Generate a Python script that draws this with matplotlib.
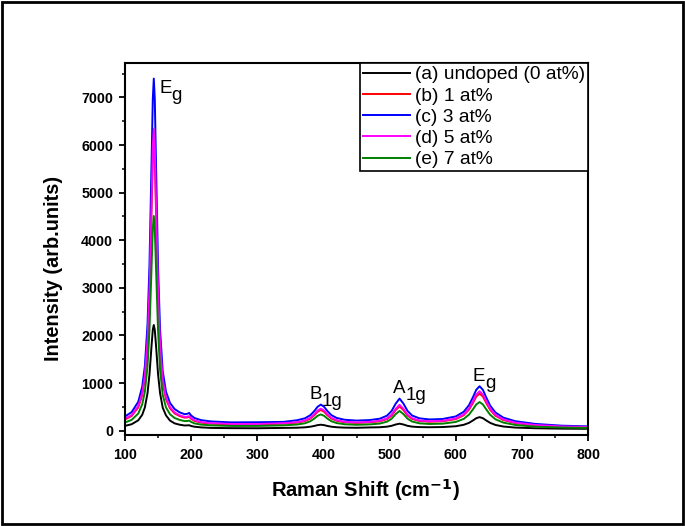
import matplotlib
matplotlib.use("Agg")
import matplotlib.pyplot as plt
from matplotlib.patches import Rectangle
from matplotlib.ticker import MultipleLocator

plt.rcParams['font.family'] = ['Liberation Sans', 'DejaVu Sans']

# Raman shift (cm^-1)
shift = [100, 110, 120, 126, 130, 134, 137, 140, 142, 143.5, 145, 147, 150, 153, 157, 162, 168, 175, 183, 190,
         194, 197, 200, 205, 215, 230, 260, 300, 340, 360, 372, 380, 386, 391, 396, 401, 406, 412, 420, 432,
         450, 470, 485, 496, 503, 509, 515, 521, 527, 534, 545, 560, 580, 600, 612, 620, 626, 631, 636, 641,
         646, 652, 660, 672, 690, 720, 760, 800]

undoped = [102, 136, 218, 334, 489, 786, 1183, 1764, 2120, 2220, 2120, 1764, 1178, 788, 484, 321, 213, 154, 125, 110,
           112, 115, 99, 84, 70, 59, 54, 52, 59, 63, 71, 84, 100, 117, 126, 117, 100, 84, 73, 65,
           62, 69, 73, 85, 103, 130, 148, 130, 103, 86, 76, 73, 77, 94, 124, 165, 216, 263, 285, 263,
           216, 165, 121, 88, 66, 52, 43, 40]

at1 = [236, 310, 489, 751, 1107, 1821, 2862, 4564, 5724, 6075, 5724, 4528, 2803, 1732, 1018, 661, 470, 363, 305, 275,
       278, 292, 250, 207, 170, 150, 133, 132, 150, 170, 203, 254, 324, 397, 436, 397, 325, 256, 209, 178,
       164, 177, 197, 244, 317, 430, 512, 431, 320, 248, 204, 189, 198, 244, 326, 443, 584, 717, 781, 717,
       584, 438, 315, 224, 161, 115, 84, 73]

at3 = [300, 390, 607, 926, 1358, 2226, 3491, 5559, 6968, 7395, 6968, 5515, 3419, 2117, 1250, 816, 584, 454, 383, 348,
       354, 373, 319, 267, 222, 195, 175, 178, 186, 220, 261, 325, 410, 501, 549, 501, 412, 327, 268, 230,
       213, 224, 252, 315, 414, 565, 675, 567, 417, 319, 260, 237, 246, 300, 398, 537, 705, 860, 934, 858,
       700, 527, 382, 274, 200, 143, 106, 91]

at5 = [251, 328, 514, 787, 1158, 1902, 2987, 4760, 5969, 6335, 5969, 4723, 2925, 1809, 1065, 693, 495, 383, 322, 291,
       293, 307, 265, 221, 182, 159, 142, 140, 158, 179, 215, 270, 344, 422, 463, 423, 345, 271, 221, 188,
       173, 186, 209, 258, 337, 456, 544, 457, 340, 262, 215, 199, 209, 257, 344, 468, 620, 760, 828, 760,
       619, 463, 333, 237, 169, 121, 90, 78]

at7 = [173, 227, 360, 555, 819, 1350, 2123, 3387, 4249, 4510, 4249, 3361, 2079, 1283, 753, 488, 346, 267, 225, 202,
       204, 212, 185, 154, 128, 113, 100, 101, 113, 130, 156, 198, 253, 312, 343, 312, 254, 199, 160, 136,
       124, 133, 150, 190, 251, 346, 416, 347, 253, 193, 155, 142, 148, 184, 248, 338, 449, 552, 602, 552,
       449, 335, 240, 170, 121, 85, 67, 59]

labels = ["(a) undoped (0 at%)", "(b) 1 at%", "(c) 3 at%", "(d) 5 at%", "(e) 7 at%"]
colors = ["#000000", "#ff0000", "#0000ff", "#ff00ff", "#008000"]
series = [undoped, at1, at3, at5, at7]

# peak labels: (main letter, subscript, x, y)
peak_main = ["E", "B", "A", "E"]
peak_sub = ["g", "1g", "1g", "g"]
peak_x = [151.4, 378.7, 505.7, 625.1]
peak_y = [7095, 660, 786, 1044]

fig = plt.figure(figsize=(6.85, 5.26), dpi=100)
ax = fig.add_axes([0.1825, 0.173, 0.676, 0.707])

for ys, c, lab in zip(series, colors, labels):
    ax.plot(shift, ys, color=c, lw=1.4, label=lab)

ax.set_xlim(100, 800)
ax.set_ylim(-90, 7720)
ax.xaxis.set_major_locator(MultipleLocator(100))
ax.xaxis.set_minor_locator(MultipleLocator(50))
ax.yaxis.set_major_locator(MultipleLocator(1000))
ax.yaxis.set_minor_locator(MultipleLocator(500))
ax.tick_params(which='major', direction='out', length=4, width=1.3, labelsize=10.3)
ax.tick_params(axis='x', which='major', pad=5.5)
ax.tick_params(axis='y', which='major', pad=4.5)
ax.tick_params(which='minor', direction='out', length=2.5, width=1.1)
ax.tick_params(top=False, right=False)
for lbl in ax.get_xticklabels() + ax.get_yticklabels():
    lbl.set_fontweight('bold')
for sp in ax.spines.values():
    sp.set_linewidth(1.5)

ax.set_xlabel("Raman Shift (cm$^{\\mathbf{-1}}$)", fontsize=14.5, fontweight='bold')
ax.set_ylabel("Intensity (arb.units)", fontsize=14.3, fontweight='bold')
ax.xaxis.set_label_coords(0.52, -0.113)
ax.yaxis.set_label_coords(-0.133, 0.449)

fs = 13.5
for m, s, px, py in zip(peak_main, peak_sub, peak_x, peak_y):
    ax.text(px, py, m, fontsize=fs, ha='left', va='baseline')
    ax.annotate(s, xy=(px, py), xytext=(0.667 * fs, -4.8), textcoords='offset points',
                fontsize=fs, ha='left', va='baseline')

leg = ax.legend(loc='upper right', bbox_to_anchor=(1.0, 1.0), borderaxespad=0, fontsize=13.8,
                labelspacing=0.2, handlelength=2.45, handletextpad=0.25, borderpad=0.15,
                fancybox=False, framealpha=1, edgecolor='black')
leg.get_frame().set_linewidth(1.2)

fig.patches.append(Rectangle((0.003, 0.004), 0.994, 0.992, transform=fig.transFigure,
                             fill=False, edgecolor='black', lw=2))

fig.savefig("out.png", dpi=100)
